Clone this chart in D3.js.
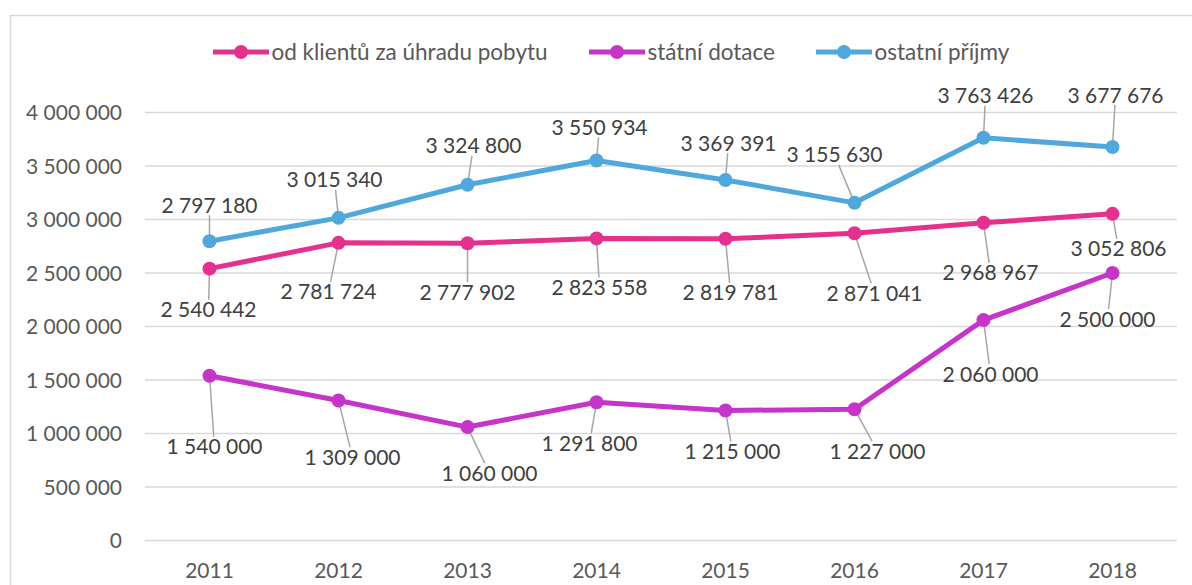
<!DOCTYPE html>
<html><head><meta charset="utf-8">
<script src="https://cdn.jsdelivr.net/npm/d3@7"></script>
<style>
html,body{margin:0;padding:0;background:#fff;}
svg{display:block;font-family:Lato,"Open Sans",sans-serif;}
</style></head>
<body><svg id="c" width="1192" height="585"></svg>
<script>
const years = ["2011","2012","2013","2014","2015","2016","2017","2018"];
const seriesNames = ["od klientů za úhradu pobytu","státní dotace","ostatní příjmy"];
const klienti = [2540442,2781724,2777902,2823558,2819781,2871041,2968967,3052806];
const dotace  = [1540000,1309000,1060000,1291800,1215000,1227000,2060000,2500000];
const ostatni = [2797180,3015340,3324800,3550934,3369391,3155630,3763426,3677676];
const yTicks = [0,500000,1000000,1500000,2000000,2500000,3000000,3500000,4000000];

// layout: data label centre offsets (px) relative to each point
const offKlienti = [[-1,41],[-10,49],[0,49],[3,49],[5,54],[20,60],[7,50],[6,35]];
const offDotace  = [[5,71],[14,57],[22,46],[-7,41],[7,41],[23,42],[7,54],[-5,46]];
const offOstatni = [[0,-36],[-4,-38],[6,-39],[3,-33],[3,-37],[-20,-48],[2,-42],[3,-52]];

const colors = ["#e5308d","#c634c9","#4fa8dd"];
const series = [
  {name:seriesNames[0], values:klienti, off:offKlienti, color:colors[0]},
  {name:seriesNames[1], values:dotace, off:offDotace, color:colors[1]},
  {name:seriesNames[2], values:ostatni, off:offOstatni, color:colors[2]}
];
const fmt = v => d3.format(",")(v).replace(/,/g," ");

const svg = d3.select("#c");
// frame
svg.append("path").attr("d","M10.5,600 L10.5,15.5 L1200,15.5")
  .attr("fill","none").attr("stroke","#d9d9d9").attr("stroke-width",1.5);

const x = d3.scaleBand().domain(years).range([145,1177]);
const y = d3.scaleLinear().domain([0,4000000]).range([540.5,112.5]);

// grid
svg.append("g").selectAll("line").data(yTicks).join("line")
  .attr("x1",145).attr("x2",1177)
  .attr("y1",d=>y(d)).attr("y2",d=>y(d))
  .attr("stroke","#d9d9d9").attr("stroke-width",1.5);

// y axis
const yAxis = svg.append("g").attr("transform","translate(122,0)")
  .call(d3.axisLeft(y).tickValues(yTicks).tickFormat(fmt).tickSize(0).tickPadding(0));
yAxis.select(".domain").remove();
yAxis.selectAll("text").attr("font-size",21).attr("fill","#595959")
  .attr("font-family","Lato").attr("dy","0.35em");

// x axis
const xAxis = svg.append("g").attr("transform","translate(0,541)")
  .call(d3.axisBottom(x).tickSize(0).tickPadding(0));
xAxis.select(".domain").remove();
xAxis.selectAll("text").attr("font-size",21).attr("fill","#595959")
  .attr("font-family","Lato").attr("dy","0").attr("y",37);

const cx = d => x(d) + x.bandwidth()/2;
const line = d3.line().x((d,i)=>cx(years[i])).y(d=>y(d));

const gLeader = svg.append("g");
const gLines = svg.append("g");
const gLabels = svg.append("g");

series.forEach(s=>{
  gLines.append("path").datum(s.values).attr("d",line)
    .attr("fill","none").attr("stroke",s.color).attr("stroke-width",5)
    .attr("stroke-linejoin","round");
  gLines.append("g").selectAll("circle").data(s.values).join("circle")
    .attr("cx",(d,i)=>cx(years[i])).attr("cy",d=>y(d)).attr("r",7)
    .attr("fill",s.color);
  s.values.forEach((v,i)=>{
    const px = cx(years[i]), py = y(v);
    const lx = px + s.off[i][0], ly = py + s.off[i][1];
    const t = gLabels.append("text").attr("x",lx).attr("y",ly).attr("dy","0.36em")
      .attr("text-anchor","middle").attr("font-size",21).attr("fill","#404040")
      .text(fmt(v));
    const bb = t.node().getBBox();
    const hw = bb.width/2 + 2, hh = 10;
    const dx = px - lx, dy = py - ly;
    let tt = Math.min(dx!==0 ? hw/Math.abs(dx) : Infinity, dy!==0 ? hh/Math.abs(dy) : Infinity);
    const ex = lx + dx*tt, ey = ly + dy*tt;
    gLeader.append("line").attr("x1",px).attr("y1",py).attr("x2",ex).attr("y2",ey)
      .attr("stroke","#a6a6a6").attr("stroke-width",1.5);
  });
});

// legend
const legendStarts = [213,589,816];
const gLeg = svg.append("g");
series.forEach((s,i)=>{
  const x0 = legendStarts[i];
  gLeg.append("line").attr("x1",x0).attr("x2",x0+56).attr("y1",52).attr("y2",52)
    .attr("stroke",s.color).attr("stroke-width",5);
  gLeg.append("circle").attr("cx",x0+28).attr("cy",52).attr("r",7).attr("fill",s.color);
  gLeg.append("text").attr("x",x0+58.5).attr("y",52).attr("dy","0.35em")
    .attr("font-size",22.5).attr("fill","#595959").text(s.name);
});
</script></body></html>
